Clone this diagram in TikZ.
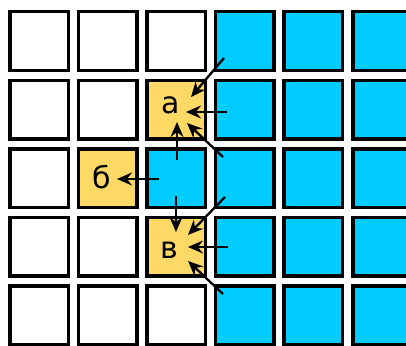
\documentclass[tikz,border=0pt]{standalone}
\usepackage{fontspec}
\setmainfont{DejaVu Sans}
\usetikzlibrary{arrows.meta}
\definecolor{cyanfill}{HTML}{00CCFF}
\definecolor{yelfill}{HTML}{FFD966}
\begin{document}
\begin{tikzpicture}[x=1pt,y=-1pt,
  cell/.style={draw=black,line width=3.5pt,minimum size=58.5pt,inner sep=0pt,fill=white},
  blue/.style={cell,fill=cyanfill},
  yel/.style={cell,fill=yelfill},
  lbl/.style={font=\fontsize{30}{33}\selectfont,inner sep=0pt},
  arr/.style={line width=2.3pt,-{Stealth[length=15pt,width=13pt,inset=5pt]}}]
\useasboundingbox (0,0) rectangle (406,345);
\begin{scope}
\clip (0,0) rectangle (406,345);
\foreach \i in {1,...,6}{
  \foreach \j in {1,...,5}{
    \pgfmathsetmacro{\cx}{39+68.6*(\i-1)}
    \pgfmathsetmacro{\cy}{41+68.5*(\j-1)}
    \ifnum\i>3
      \node[blue] (c\i\j) at (\cx,\cy) {};
    \else
      \node[cell] (c\i\j) at (\cx,\cy) {};
    \fi
  }
}
\node[blue] (c33) at (176.2,178) {};
\node[yel] (c32) at (176.2,109.5) {};
\node[yel] (c23) at (107.6,178) {};
\node[yel] (c34) at (176.2,246.5) {};
\end{scope}
\node[lbl] (la) at (170.5,105) {а};
\node[lbl] (lb) at (102,177) {б};
\node[lbl] (lv) at (169,250) {в};
% arrows into a
\coordinate (a1s) at (224,58);  \coordinate (a1e) at (191,97);
\coordinate (a2s) at (227,112); \coordinate (a2e) at (186,112);
\coordinate (a3s) at (223,157); \coordinate (a3e) at (187,123);
\coordinate (a4s) at (177,160); \coordinate (a4e) at (177,122);
% arrow into b
\coordinate (b1s) at (159,179); \coordinate (b1e) at (117,179);
% arrows into v
\coordinate (v1s) at (176,196); \coordinate (v1e) at (176,232);
\coordinate (v2s) at (225,197); \coordinate (v2e) at (188,235);
\coordinate (v3s) at (228,247); \coordinate (v3e) at (188,247);
\coordinate (v4s) at (223,294); \coordinate (v4e) at (188,261);
\foreach \s/\e in {a1s/a1e,a2s/a2e,a3s/a3e,a4s/a4e,b1s/b1e,v1s/v1e,v2s/v2e,v3s/v3e,v4s/v4e}
  \draw[arr] (\s) -- (\e);
\end{tikzpicture}
\end{document}
